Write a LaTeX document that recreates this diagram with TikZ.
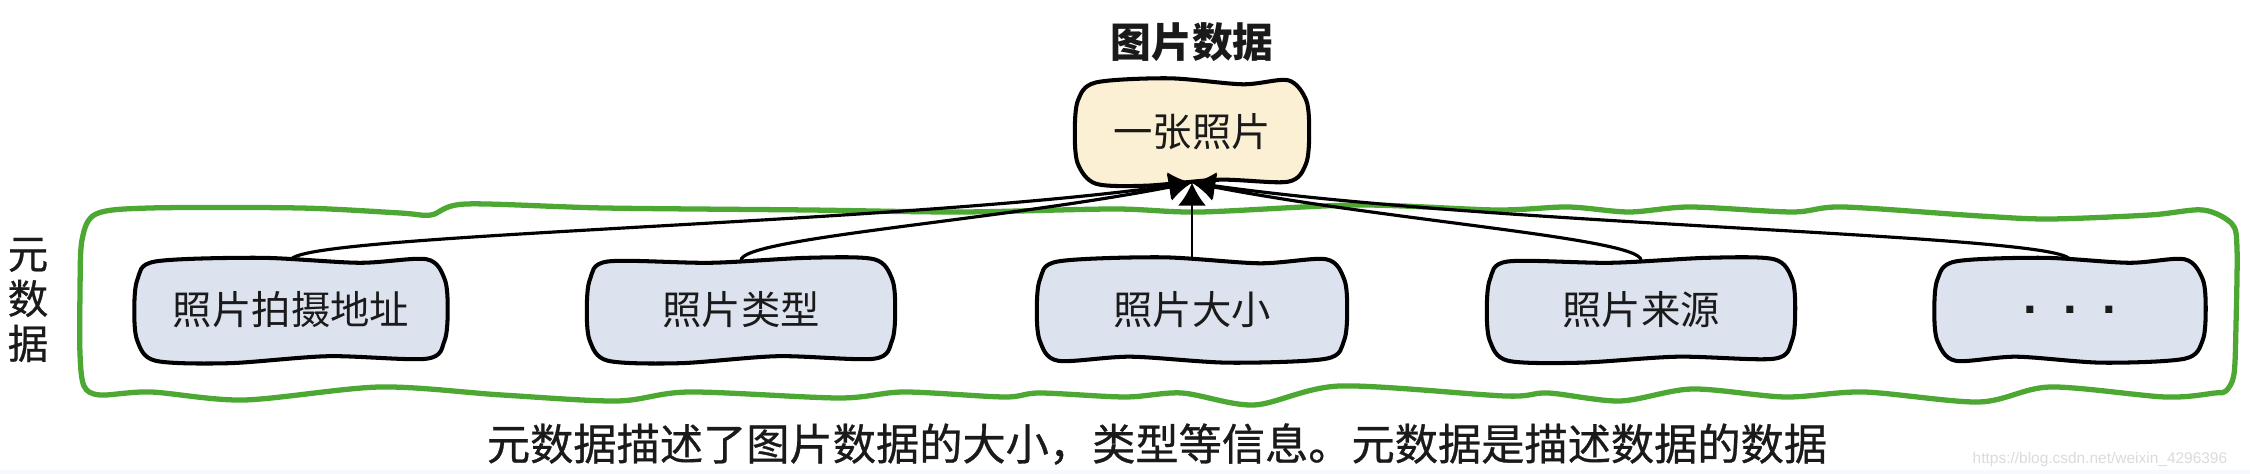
\documentclass[tikz,border=0pt]{standalone}
\usepackage{fontspec}
\newfontfamily\cjk{Noto Sans CJK SC}
\newfontfamily\cjkm{Noto Sans CJK SC}[FakeBold=0.7]
\newfontfamily\wmfont{Liberation Sans}
\usetikzlibrary{calc,arrows.meta}
\definecolor{cream}{HTML}{FBF0D4}
\definecolor{boxblue}{HTML}{DDE2EF}
\definecolor{framegreen}{HTML}{4CA832}
\definecolor{inkblack}{HTML}{1A1A1A}
\pgfdeclarelayer{background}
\pgfsetlayers{background,main}
% wobbly hand-drawn outline around a named node
\newcommand\sketchshape[4]{%
\filldraw[sketchline, fill=#2] plot[smooth cycle, tension=0.5] coordinates {
 ($(#1.north west)+(0.12,-1.9)$)
 ($(#1.north west)+(1.9,-0.12)$)
 ($(#1.north west)!0.4!(#1.north east)+(0,#3)$)
 ($(#1.north west)!0.72!(#1.north east)+(0,-#3)$)
 ($(#1.north east)+(-1.9,0.1)$)
 ($(#1.north east)+(-0.1,-1.9)$)
 ($(#1.east)+(0.2,0)$)
 ($(#1.south east)+(-0.12,1.9)$)
 ($(#1.south east)+(-1.9,0.1)$)
 ($(#1.south west)!0.62!(#1.south east)+(0,#4)$)
 ($(#1.south west)!0.3!(#1.south east)+(0,-#4)$)
 ($(#1.south west)+(1.9,-0.1)$)
 ($(#1.south west)+(0.1,1.9)$)
 ($(#1.west)+(-0.2,0)$)
};}
\begin{document}
\begin{tikzpicture}[x=1mm,y=1mm,
  every node/.style={inner sep=0pt},
  sketchline/.style={draw=black, line width=1.15pt, line join=round},
  leafbox/.style={minimum height=9.8mm,
    font=\cjk\fontsize{11.2pt}{13pt}\selectfont, text=inkblack},
  rootbox/.style={minimum width=22.9mm, minimum height=10mm,
    font=\cjk\fontsize{11.2pt}{13pt}\selectfont, text=inkblack},
  frameline/.style={draw=framegreen, line width=1.5pt, line join=round},
  link/.style={draw=black, line width=0.9pt, -{Latex[length=2.3mm,width=2.8mm]}},
  label/.style={font=\cjkm\fontsize{11.5pt}{12.8pt}\selectfont, text=inkblack},
]
\useasboundingbox (0,0) rectangle (225,47.4);

% title and root
\node[label, font=\cjk\bfseries\fontsize{11.6pt}{13pt}\selectfont] (title) at (119.2,43.2) {图片数据};
\node[rootbox] (root) at (119.2,34.2) {一张照片};

% left label
\node[label, align=center] (metalabel) at (2.8,17.4) {元\\数\\据};

% leaf boxes
\node[leafbox, minimum width=30.8mm] (b1) at (29.1,16.4) {照片拍摄地址};
\node[leafbox, minimum width=30.3mm] (b2) at (74.1,16.4) {照片类型};
\node[leafbox, minimum width=30.5mm] (b3) at (119.2,16.4) {照片大小};
\node[leafbox, minimum width=30.3mm] (b4) at (164.1,16.4) {照片来源};
\node[leafbox, minimum width=26.6mm] (b5) at (207.0,16.4)
  {\wmfont\bfseries\fontsize{14pt}{14pt}\selectfont .\hspace{2.6mm}.\hspace{2.6mm}.};

\begin{pgfonlayer}{background}
\fill[white] (0,0) rectangle (225,47.4);
\fill[black!6!blue!3!white] (0,0) rectangle (225,0.35);
% green frame around the metadata
\draw[frameline] plot[smooth cycle, tension=0.5] coordinates {
 (8.2,23.4) (9.6,26.0) (15.0,26.6) (30,26.6) (40,26.1) (43.1,25.9) (46.6,27.0)
 (60.4,26.6) (80.8,26.4) (96.1,26.2) (111.4,26.5) (120,26.2) (135.8,26.9)
 (149.6,26.4) (156.8,26.7) (162.9,26.2) (169,26.7) (179.2,26.2) (184.3,26.7)
 (198.0,25.8) (205,25.5) (215,25.9) (220.3,26.4) (223.2,25.0) (223.7,22.5)
 (223.6,15) (223.4,10) (222.6,8.3)
 (221.5,8.1) (216.5,7.7) (205.0,8.7) (197.9,7.2) (186.4,8.2) (178.5,7.7)
 (169.2,8.5) (162.0,7.3) (154.8,8.1) (150.5,7.8) (134.0,8.8) (125.4,6.9)
 (118.2,8.1) (112.5,7.7) (104.0,8.1) (100.4,7.7) (90.4,8.2) (83.9,7.6)
 (68.9,8.2) (61.7,7.3) (50.2,7.9) (38.0,8.7) (24.4,7.4) (15.1,8.2) (10.0,7.9)
 (8.4,8.8) (8.0,12) (8.0,18)
};
\sketchshape{root}{cream}{0.3}{0.3}
\sketchshape{b1}{boxblue}{0.25}{0.35}
\sketchshape{b2}{boxblue}{-0.25}{0.35}
\sketchshape{b3}{boxblue}{0.3}{-0.3}
\sketchshape{b4}{boxblue}{-0.25}{0.3}
\sketchshape{b5}{boxblue}{0.25}{-0.3}
\end{pgfonlayer}

% connectors
\draw[link] (b1.north) .. controls +(90:2.6) and +(188:30) .. (root.south);
\draw[link] (b2.north) .. controls +(90:2.2) and +(191:20) .. (root.south);
\draw[link, line width=0.7pt] (b3.north) -- (root.south);
\draw[link] (b4.north) .. controls +(90:2.2) and +(-11:20) .. (root.south);
\draw[link] (b5.north) .. controls +(90:2.6) and +(-8:32) .. (root.south);

% caption
\node[label, font=\cjkm\fontsize{12.3pt}{14pt}\selectfont] (caption) at (115.7,3.0)
  {元数据描述了图片数据的大小，类型等信息。元数据是描述数据的数据};

% watermark
\node[anchor=base west, font=\wmfont\fontsize{4.4pt}{5pt}\selectfont, text=black!14] (wm) at (197.2,1.0)
  {https://blog.csdn.net/weixin\_4296396};
\end{tikzpicture}
\end{document}
